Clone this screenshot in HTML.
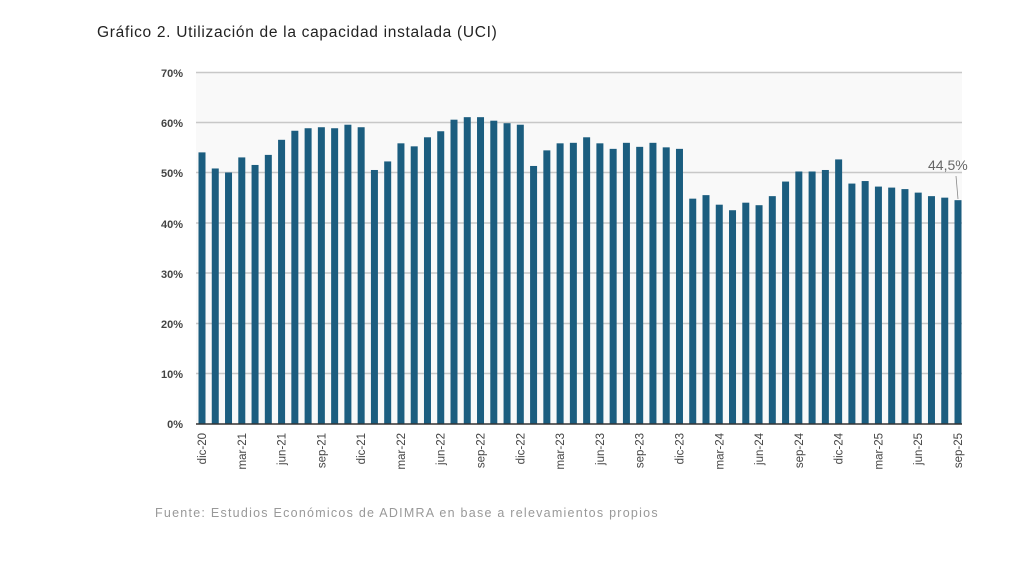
<!DOCTYPE html>
<html><head><meta charset="utf-8"><style>
body{margin:0;background:#fff;width:1024px;height:559px;overflow:hidden;font-family:"Liberation Sans",sans-serif}
</style></head><body>
<svg width="1024" height="559" xmlns="http://www.w3.org/2000/svg" font-family="Liberation Sans, sans-serif">
<text x="97" y="37" font-size="15.5" fill="#222" letter-spacing="0.7">Gráfico 2. Utilización de la capacidad instalada (UCI)</text>
<rect x="196" y="72" width="766" height="352" fill="#f9f9f9"/>
<g stroke="#c8c8c8" stroke-width="1.5">
<line x1="196" x2="962" y1="72.5" y2="72.5"/><line x1="196" x2="962" y1="122.5" y2="122.5"/>
<line x1="196" x2="962" y1="172.5" y2="172.5"/><line x1="196" x2="962" y1="223" y2="223"/>
<line x1="196" x2="962" y1="273" y2="273"/><line x1="196" x2="962" y1="323.5" y2="323.5"/>
<line x1="196" x2="962" y1="373.5" y2="373.5"/>
</g>
<g font-size="11" fill="#444" text-anchor="end" font-weight="bold">
<text x="183" y="77">70%</text><text x="183" y="127">60%</text><text x="183" y="177">50%</text>
<text x="183" y="228">40%</text><text x="183" y="278">30%</text><text x="183" y="328">20%</text>
<text x="183" y="378">10%</text><text x="183" y="428">0%</text>
</g>
<g id="bars" fill="#1b5d7f"></g>
<line x1="196" x2="962" y1="424" y2="424" stroke="#333" stroke-width="1.5"/>
<g id="lbl" font-size="11.5" fill="#444"></g>
<text x="928" y="170" font-size="14" fill="#666">44,5%</text>
<line x1="956" y1="176" x2="958" y2="199" stroke="#888" stroke-width="0.8"/>
<text x="155" y="517" font-size="12.5" fill="#999" letter-spacing="1.25">Fuente: Estudios Económicos de ADIMRA en base a relevamientos propios</text>
<script>
var v=[54,50.8,50,53,51.5,53.5,56.5,58.3,58.8,59,58.8,59.5,59,50.5,52.2,55.8,55.2,57,58.2,60.5,61,61,60.3,59.8,59.5,51.3,54.4,55.8,55.9,57,55.8,54.7,55.9,55.1,55.9,55,54.7,44.8,45.5,43.6,42.5,44,43.5,45.3,48.2,50.2,50.2,50.5,52.6,47.8,48.3,47.2,47,46.7,46,45.3,45,44.5];
var L=["dic-20","mar-21","jun-21","sep-21","dic-21","mar-22","jun-22","sep-22","dic-22","mar-23","jun-23","sep-23","dic-23","mar-24","jun-24","sep-24","dic-24","mar-25","jun-25","sep-25"];
var ns="http://www.w3.org/2000/svg",b=document.getElementById("bars"),g=document.getElementById("lbl");
var step=(958-202)/57;
v.forEach(function(d,i){var cx=202+i*step,h=d*5.03;var r=document.createElementNS(ns,"rect");
r.setAttribute("x",cx-3.5);r.setAttribute("width",7);r.setAttribute("y",424-h);r.setAttribute("height",h);b.appendChild(r);
if(i%3==0){var t=document.createElementNS(ns,"text");t.setAttribute("transform","translate("+(cx+4)+",433) rotate(-90)");
t.setAttribute("text-anchor","end");t.textContent=L[i/3];g.appendChild(t);}});
</script>
</svg>
</body></html>
